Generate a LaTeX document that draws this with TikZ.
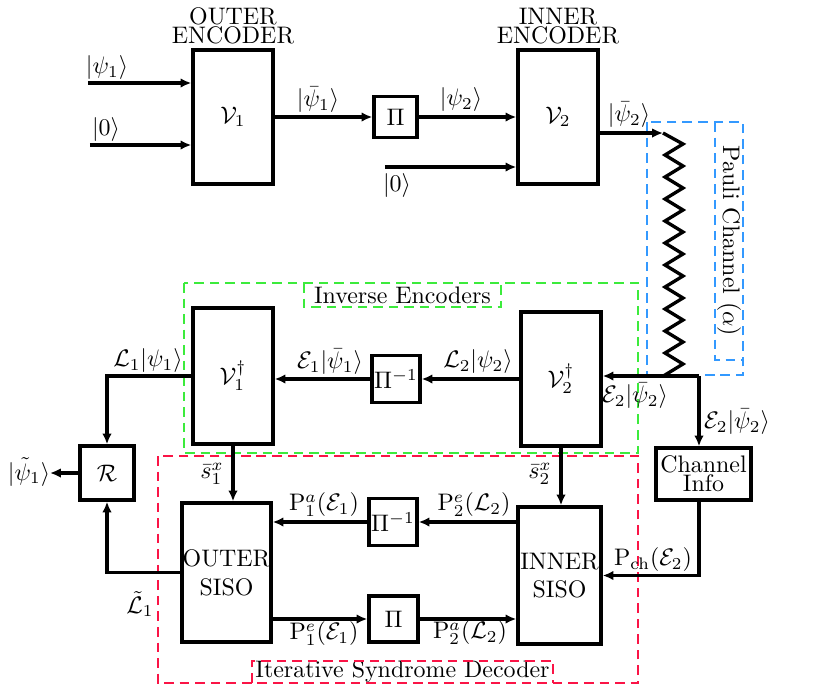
\documentclass[tikz,border=0pt]{standalone}
\usepackage{amsmath,amssymb}
\usetikzlibrary{arrows.meta}

\definecolor{chanblue}{RGB}{51,153,255}
\definecolor{invgreen}{RGB}{60,235,60}
\definecolor{decred}{RGB}{250,20,70}
\newcommand{\pxu}{0.0147cm}

\tikzset{
  blk/.style={draw, line width=1.4pt, inner sep=0pt, align=center},
  sz/.style 2 args={minimum width=#1*\pxu, minimum height=#2*\pxu},
  wire/.style={line width=1.4pt},
  grp/.style={dash pattern=on 4pt off 2.5pt, line width=0.8pt},
  lbl/.style={inner sep=0pt, align=center},
}

\begin{document}
\begin{tikzpicture}[x=\pxu, y=-\pxu, >={Latex[length=4.5pt,width=4pt]}]
\useasboundingbox (0,0) rectangle (831,692);

% groups
\draw [grp, chanblue] (647,122) rectangle (743,375);
\draw [grp, invgreen] (184,283) rectangle (638,453);
\draw [grp, decred] (158,456) rectangle (638,683);
\node [lbl, rotate=-90] (gpauli) at (729,241) {Pauli Channel ($\alpha$)};
\node [lbl] (ginv) at (402.5,295) {Inverse Encoders};
\node [lbl] (gdec) at (402.5,672) {Iterative Syndrome Decoder};
\draw [grp, chanblue] (715,122) -- (715,360) -- (743,360);
\draw [grp, invgreen] (304,283) -- (304,307) -- (501,307) -- (501,283);
\draw [grp, decred] (252,683) -- (252,661) -- (553,661) -- (553,683);

% encoders
\node [blk, sz={80}{134}] (V1) at (233,117) {$\mathcal{V}_1$};
\node [blk, sz={43}{41}] (Pi1) at (395.5,117) {$\Pi$};
\node [blk, sz={80}{134}] (V2) at (558,117) {$\mathcal{V}_2$};
\node [lbl, anchor=south] (tV1) at ([yshift=1.5pt]V1.north) {OUTER\\[-4pt]ENCODER};
\node [lbl, anchor=south] (tV2) at ([yshift=1.5pt]V2.north) {INNER\\[-4pt]ENCODER};

\coordinate (in1) at (88,83);
\coordinate (in0) at (90,145);
\coordinate (in02) at (385,167);
\coordinate (ztop) at (663,133);
\coordinate (zbot) at (669,376);
\coordinate (split) at (699,376);

\draw [wire,->] (in1) -- (in1 -| V1.west);
\draw [wire,->] (in0) -- (in0 -| V1.west);
\draw [wire,->] (V1.east) -- (Pi1.west);
\draw [wire,->] (Pi1.east) -- (V2.west);
\draw [wire,->] (in02) -- (in02 -| V2.west);
\draw [wire,->] (V2.east |- ztop) -- (ztop);
\draw [wire] (ztop) \foreach \k in {0,...,10}{ -- (683,{144+22*\k}) -- (665,{155+22*\k}) } -- (zbot);

\node [lbl] (lpsi1) at (107,68) {$|\psi_1\rangle$};
\node [lbl] (lzero1) at (106,130) {$|0\rangle$};
\node [lbl] (lpsib1) at (318,100) {$|\bar{\psi}_1\rangle$};
\node [lbl] (lpsi2) at (461,100) {$|\psi_2\rangle$};
\node [lbl] (lzero2) at (397,186) {$|0\rangle$};
\node [lbl] (lpsib2) at (629,115) {$|\bar{\psi}_2\rangle$};

% inverse encoders
\node [blk, sz={80}{136}] (V1inv) at (233,376) {$\mathcal{V}_1^\dagger$};
\node [blk, sz={48}{47}] (PiInv1) at (396,379) {$\Pi^{-1}$};
\node [blk, sz={80}{134}] (V2inv) at (561,379) {$\mathcal{V}_2^\dagger$};
\node [blk, sz={54}{54}] (R) at (107,473) {$\mathcal{R}$};
\node [blk, sz={95}{52}] (ChInfo) at (703.5,474) {Channel\\[-4pt]Info};
\coordinate (out) at (50,473);

\draw [wire,->] (split) -- (V2inv.east |- split);
\draw [wire,->] (split) -- (split |- ChInfo.north);
\draw [wire,->] (V2inv.west) -- (PiInv1.east);
\draw [wire,->] (PiInv1.west) -- (PiInv1.west -| V1inv.east);
\draw [wire,->] (V1inv.west) -| (R.north);
\draw [wire,->] (R.west) -- (out);

\node [lbl] (lL1) at (148,361) {$\mathcal{L}_1|\psi_1\rangle$};
\node [lbl] (lE1) at (330,362) {$\mathcal{E}_1|\bar{\psi}_1\rangle$};
\node [lbl] (lL2) at (478,362) {$\mathcal{L}_2|\psi_2\rangle$};
\node [lbl] (lE2a) at (635,396) {$\mathcal{E}_2|\bar{\psi}_2\rangle$};
\node [lbl] (lE2b) at (737,422) {$\mathcal{E}_2|\bar{\psi}_2\rangle$};
\node [lbl] (lout) at (29,472) {$|\tilde{\psi}_1\rangle$};

% decoder
\node [blk, sz={89}{139}] (OUTER) at (226.5,572.5) {OUTER\\SISO};
\node [blk, sz={48}{47}] (PiInv2) at (393,522) {$\Pi^{-1}$};
\node [blk, sz={49}{46}] (Pi2) at (393.5,619) {$\Pi$};
\node [blk, sz={83}{137}] (INNER) at (559.5,575.5) {INNER\\SISO};

\draw [wire,->] (V1inv.south) -- (V1inv.south |- OUTER.north);
\draw [wire,->] (V2inv.south) -- (V2inv.south |- INNER.north);
\draw [wire,->] (PiInv2.east -| INNER.west) -- (PiInv2.east);
\draw [wire,->] (PiInv2.west) -- (PiInv2.west -| OUTER.east);
\draw [wire,->] (Pi2.west -| OUTER.east) -- (Pi2.west);
\draw [wire,->] (Pi2.east) -- (Pi2.east -| INNER.west);
\draw [wire,->] (split |- ChInfo.south) |- (INNER.east);
\draw [wire,->] (OUTER.west) -| (R.south);

\node [lbl] (ls1) at (212,474) {$\bar{s}_1^x$};
\node [lbl] (ls2) at (540,474) {$\bar{s}_2^x$};
\node [lbl] (lP1a) at (324,505) {$\mathrm{P}_1^a(\mathcal{E}_1)$};
\node [lbl] (lP2e) at (474,505) {$\mathrm{P}_2^e(\mathcal{L}_2)$};
\node [lbl] (lP1e) at (324,634) {$\mathrm{P}_1^e(\mathcal{E}_1)$};
\node [lbl] (lP2a) at (470,633) {$\mathrm{P}_2^a(\mathcal{L}_2)$};
\node [lbl] (lPch) at (653,560) {$\mathrm{P}_{\mathrm{ch}}(\mathcal{E}_2)$};
\node [lbl] (lLt) at (140,604) {$\tilde{\mathcal{L}}_1$};

\end{tikzpicture}
\end{document}
